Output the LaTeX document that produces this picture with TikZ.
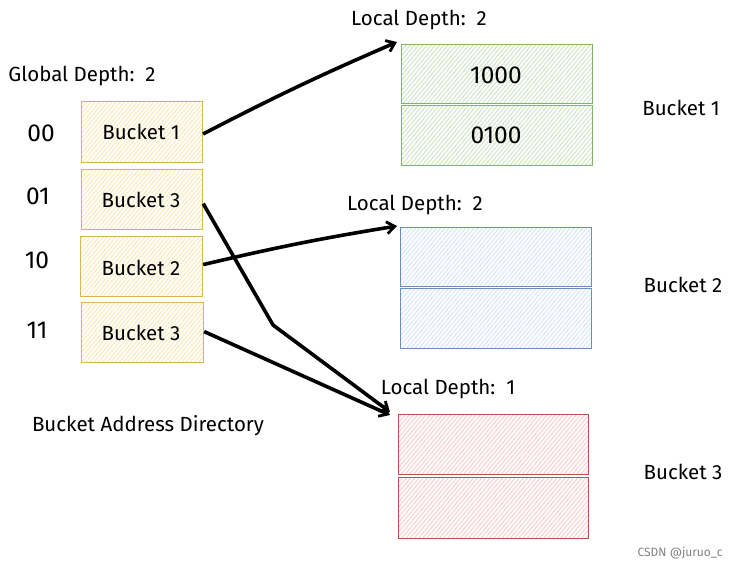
\documentclass[tikz,border=0pt]{standalone}
\usepackage{fontspec}
\setmainfont{Fira Sans}
\usetikzlibrary{patterns.meta,arrows.meta}
\definecolor{ystroke}{HTML}{D6B656}
\definecolor{yhatch}{HTML}{FBEBB8}
\definecolor{gstroke}{HTML}{82B366}
\definecolor{ghatch}{HTML}{CFE6C7}
\definecolor{bstroke}{HTML}{6C8EBF}
\definecolor{bhatch}{HTML}{D6E5FA}
\definecolor{rstroke}{HTML}{B85450}
\definecolor{rhatch}{HTML}{F8CFCD}
\tikzset{
  box/.style={draw=#1stroke, line width=1.2pt, preaction={fill=white},
    pattern={Lines[angle=50,distance=3.2pt,line width=1pt]}, pattern color=#1hatch,
    inner sep=0pt, anchor=north west},
  lbl/.style={font=\fontsize{20.5}{24}\selectfont, inner sep=0pt},
  big/.style={font=\fontsize{24.5}{28}\selectfont, inner sep=0pt},
  arr/.style={line width=3.6pt, -{Straight Barb[length=8pt,width=12pt,line width=2.8pt]}}
}
\begin{document}
\begin{tikzpicture}[x=1pt,y=-1pt]
\useasboundingbox (0,0) rectangle (741,569);
% directory
\node[box=y, minimum width=121pt, minimum height=61pt] (d1) at (81,101) {};
\node[box=y, minimum width=121pt, minimum height=60pt] (d2) at (81,169) {};
\node[box=y, minimum width=122pt, minimum height=60pt] (d3) at (80,236) {};
\node[box=y, minimum width=122pt, minimum height=60pt] (d4) at (81,302) {};
\node[lbl] (t1) at (141,132) {Bucket 1};
\node[lbl] (t2) at (141,200) {Bucket 3};
\node[lbl] (t3) at (141,268) {Bucket 2};
\node[lbl] (t4) at (141,333) {Bucket 3};
\node[big] (k1) at (41,133) {00};
\node[big] (k2) at (38,196) {01};
\node[big] (k3) at (37,260) {10};
\node[big] (k4) at (37,330) {11};
\node[lbl] (gd) at (82,76) {Global Depth:\ \ 2};
\node[lbl] (bad) at (148,426) {Bucket Address Directory};
% green bucket
\node[box=g, minimum width=191pt, minimum height=59pt] (g1) at (401,44) {};
\node[box=g, minimum width=191pt, minimum height=60pt] (g2) at (401,105) {};
\node[big] (g1t) at (496,75) {1000};
\node[big] (g2t) at (496,135) {0100};
\node[lbl] (ld1) at (419,20) {Local Depth:\ \ 2};
\node[lbl] (bk1) at (681,108) {Bucket 1};
% blue bucket
\node[box=b, minimum width=191pt, minimum height=59pt] (b1) at (400,227) {};
\node[box=b, minimum width=191pt, minimum height=60pt] (b2) at (400,288) {};
\node[lbl] (ld2) at (415,205) {Local Depth:\ \ 2};
\node[lbl] (bk2) at (683,285) {Bucket 2};
% red bucket
\node[box=r, minimum width=190pt, minimum height=60pt] (r1) at (398,414) {};
\node[box=r, minimum width=190pt, minimum height=61pt] (r2) at (398,477) {};
\node[lbl] (ld3) at (448,389) {Local Depth:\ \ 1};
\node[lbl] (bk3) at (683,472) {Bucket 3};
% watermark
\node[font=\fontsize{12}{14}\selectfont, text=gray, inner sep=0pt] (wm) at (680,553) {CSDN @juruo\_c};
% arrows
\coordinate (bend) at (273,325);
\draw[arr] ([yshift=-2pt]d1.east) to[bend left=2] ([xshift=-4pt,yshift=2pt]g1.north west);
\draw[arr, line join=round] ([yshift=-4pt]d2.east) -- (bend) -- ([xshift=-8pt,yshift=2pt]r1.north west);
\draw[arr] ([yshift=2pt]d3.east) to[bend left=2] ([xshift=-3pt,yshift=1pt]b1.north west);
\draw[arr] ([yshift=1pt]d4.east) -- ([xshift=-8pt,yshift=-1pt]r1.north west);
\end{tikzpicture}
\end{document}
